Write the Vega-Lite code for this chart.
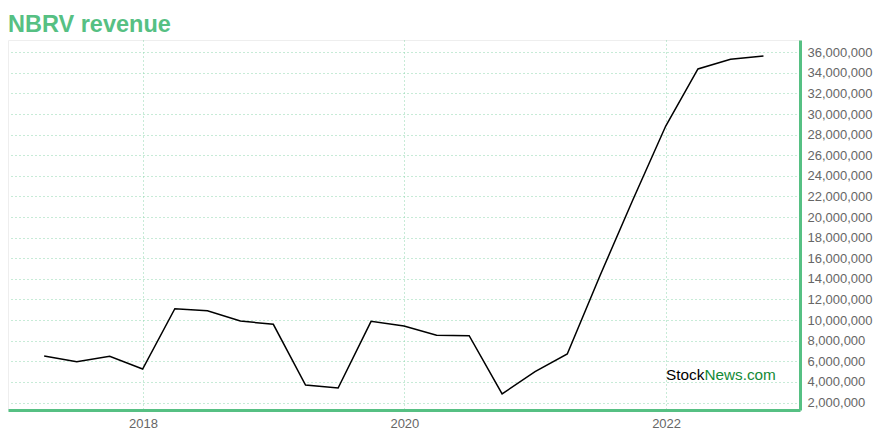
{
  "$schema": "https://vega.github.io/schema/vega-lite/v6.json",
  "autosize": "none",
  "width": 792,
  "height": 370,
  "padding": {"left": 8, "top": 40, "right": 80, "bottom": 30},
  "background": "white",
  "config": {
    "font": "Liberation Sans",
    "view": {"stroke": "#eeeeee", "strokeWidth": 1}
  },
  "title": {
    "text": "NBRV revenue",
    "anchor": "start",
    "frame": "group",
    "fontSize": 23.5,
    "fontWeight": "bold",
    "color": "#56c083",
    "font": "Liberation Sans",
    "offset": 4
  },
  "datasets": {
    "revenue": [
      {"date": "2017-03-31", "revenue": 6510000},
      {"date": "2017-06-30", "revenue": 5960000},
      {"date": "2017-09-30", "revenue": 6490000},
      {"date": "2017-12-31", "revenue": 5250000},
      {"date": "2018-03-31", "revenue": 11100000},
      {"date": "2018-06-30", "revenue": 10910000},
      {"date": "2018-09-30", "revenue": 9910000},
      {"date": "2018-12-31", "revenue": 9590000},
      {"date": "2019-03-31", "revenue": 3700000},
      {"date": "2019-06-30", "revenue": 3410000},
      {"date": "2019-09-30", "revenue": 9880000},
      {"date": "2019-12-31", "revenue": 9430000},
      {"date": "2020-03-31", "revenue": 8520000},
      {"date": "2020-06-30", "revenue": 8490000},
      {"date": "2020-09-30", "revenue": 2830000},
      {"date": "2020-12-31", "revenue": 4990000},
      {"date": "2021-03-31", "revenue": 6710000},
      {"date": "2021-06-30", "revenue": 14280000},
      {"date": "2021-09-30", "revenue": 21660000},
      {"date": "2021-12-31", "revenue": 28840000},
      {"date": "2022-03-31", "revenue": 34380000},
      {"date": "2022-06-30", "revenue": 35320000},
      {"date": "2022-09-30", "revenue": 35640000}
    ],
    "mark": [
      {"date": "2022-01-01", "revenue": 4180000, "label": "Stock", "part": "a"},
      {"date": "2022-01-01", "revenue": 4180000, "label": "News.com", "part": "b"}
    ]
  },
  "encoding": {
    "x": {
      "field": "date",
      "type": "temporal",
      "scale": {
        "type": "utc",
        "domain": [
          {"year": 2016, "month": 12, "date": 20, "utc": true},
          {"year": 2023, "month": 1, "date": 10, "utc": true}
        ]
      },
      "axis": {
        "title": null,
        "format": "%Y",
        "values": [
          {"year": 2018, "month": 1, "date": 1, "utc": true},
          {"year": 2020, "month": 1, "date": 1, "utc": true},
          {"year": 2022, "month": 1, "date": 1, "utc": true}
        ],
        "domainColor": "#56c083",
        "domainWidth": 3,
        "ticks": false,
        "labelPadding": 7,
        "labelFontSize": 13,
        "labelColor": "#666666",
        "gridColor": "#8fd6ae",
        "gridDash": [1, 3],
        "gridWidth": 1
      }
    },
    "y": {
      "field": "revenue",
      "type": "quantitative",
      "scale": {"domain": [1272000, 37190000], "nice": false, "zero": false},
      "axis": {
        "title": null,
        "orient": "right",
        "values": [2000000, 4000000, 6000000, 8000000, 10000000, 12000000, 14000000, 16000000, 18000000, 20000000, 22000000, 24000000, 26000000, 28000000, 30000000, 32000000, 34000000, 36000000],
        "format": ",d",
        "domainColor": "#56c083",
        "domainWidth": 3,
        "ticks": false,
        "labelPadding": 7,
        "labelFontSize": 13,
        "labelColor": "#666666",
        "gridColor": "#8fd6ae",
        "gridDash": [1, 3],
        "gridWidth": 1
      }
    }
  },
  "layer": [
    {
      "data": {"name": "revenue"},
      "mark": {"type": "line", "color": "#000000", "strokeWidth": 1.5, "clip": true}
    },
    {
      "data": {"name": "mark"},
      "transform": [{"filter": "datum.part == 'a'"}],
      "mark": {"type": "text", "align": "left", "baseline": "alphabetic", "fontSize": 15.3, "color": "#000000", "font": "Liberation Sans"},
      "encoding": {"text": {"field": "label"}}
    },
    {
      "data": {"name": "mark"},
      "transform": [{"filter": "datum.part == 'b'"}],
      "mark": {"type": "text", "align": "left", "baseline": "alphabetic", "fontSize": 15.3, "dx": 38.3, "color": "#138a36", "font": "Liberation Sans"},
      "encoding": {"text": {"field": "label"}}
    }
  ]
}
